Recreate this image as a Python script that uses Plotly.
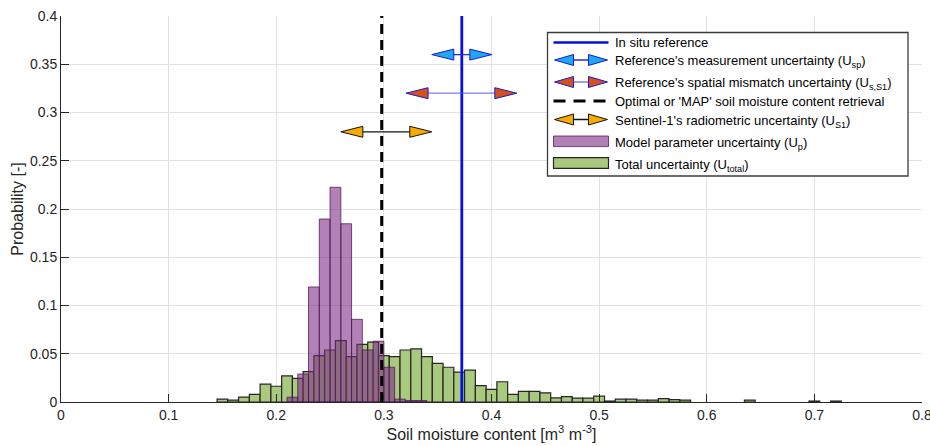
import plotly.graph_objects as go

# ---------------- data ----------------
green_centers = [0.15, 0.16, 0.17, 0.18, 0.19, 0.20, 0.21, 0.22, 0.23, 0.24,
                 0.25, 0.26, 0.27, 0.28, 0.29, 0.30, 0.31, 0.32, 0.33, 0.34,
                 0.35, 0.36, 0.37, 0.38, 0.39, 0.40, 0.41, 0.42, 0.43, 0.44,
                 0.45, 0.46, 0.47, 0.48, 0.49, 0.50, 0.51, 0.52, 0.53, 0.54,
                 0.55, 0.56, 0.57, 0.58, 0.64, 0.70, 0.72]
green_vals = [0.003, 0.002, 0.005, 0.008, 0.0185, 0.0163, 0.027, 0.0245, 0.0314, 0.048,
              0.0539, 0.0635, 0.047, 0.0598, 0.062, 0.048, 0.047, 0.0539, 0.055, 0.047,
              0.040, 0.036, 0.031, 0.033, 0.017, 0.013, 0.021, 0.008, 0.011, 0.011,
              0.0095, 0.0042, 0.0055, 0.004, 0.004, 0.006, 0.001, 0.003, 0.003, 0.002,
              0.002, 0.0035, 0.0025, 0.002, 0.002, 0.001, 0.001]

purple_centers = [0.215, 0.225, 0.235, 0.245, 0.255, 0.265, 0.275, 0.285,
                  0.295, 0.305, 0.315, 0.325, 0.335]
purple_vals = [0.005, 0.029, 0.1192, 0.1896, 0.2225, 0.1847, 0.0857, 0.054,
               0.063, 0.036, 0.003, 0.0015, 0.0015]

insitu_ref = 0.3724
map_retrieval = 0.298

arrow_y = [0.36, 0.32, 0.28]
arrow_lo = [0.3445, 0.3206, 0.2600]
arrow_hi = [0.4003, 0.4235, 0.3445]
arrow_fill = ["rgb(30,168,240)", "rgb(214,80,26)", "rgb(247,170,0)"]
arrow_edge = ["rgb(25,25,215)", "rgb(25,25,215)", "rgb(20,20,20)"]
arrow_line = ["rgb(40,40,220)", "rgba(80,80,230,0.75)", "rgb(20,20,20)"]

x_ticks = [0, 0.1, 0.2, 0.3, 0.4, 0.5, 0.6, 0.7, 0.8]
x_tick_labels = ["0", "0.1", "0.2", "0.3", "0.4", "0.5", "0.6", "0.7", "0.8"]
y_ticks = [0, 0.05, 0.1, 0.15, 0.2, 0.25, 0.3, 0.35, 0.4]
y_tick_labels = ["0", "0.05", "0.1", "0.15", "0.2", "0.25", "0.3", "0.35", "0.4"]

legend_labels = [
    "In situ reference",
    "Reference's measurement uncertainty (U<sub>sp</sub>)",
    "Reference's spatial mismatch uncertainty (U<sub>s,S1</sub>)",
    "Optimal or 'MAP' soil moisture content retrieval",
    "Sentinel-1's radiometric uncertainty (U<sub>S1</sub>)",
    "Model parameter uncertainty (U<sub>p</sub>)",
    "Total uncertainty (U<sub>total</sub>)",
]

# ---------------- styles / layout geometry ----------------
W, H = 930, 446
L, R, T, B = 61, 8, 16, 44
PW, PH = W - L - R, H - T - B
XR = [0, 0.8]
YR = [0, 0.4]
x_per_px = (XR[1] - XR[0]) / PW
y_per_px = (YR[1] - YR[0]) / PH

GREEN = "rgb(169,201,126)"
PURPLE = "rgba(123,40,130,0.58)"
PURPLE_EDGE = "rgba(75,20,85,0.75)"
BLUE = "rgb(5,15,225)"
FONT = "Liberation Sans, Arial, Helvetica, sans-serif"
AX = "#262626"

TRI_W_PX, TRI_HH_PX = 22, 5.5

fig = go.Figure()

fig.add_trace(go.Bar(x=green_centers, y=green_vals, width=0.01,
                     marker=dict(color=GREEN, line=dict(color=AX, width=1.2)),
                     name="Total uncertainty"))
fig.add_trace(go.Bar(x=purple_centers, y=purple_vals, width=0.01,
                     marker=dict(color=PURPLE, line=dict(color=PURPLE_EDGE, width=1)),
                     name="Model parameter uncertainty"))

fig.add_trace(go.Scatter(x=[insitu_ref, insitu_ref], y=YR, mode="lines",
                         line=dict(color=BLUE, width=2.8), name="In situ"))
fig.add_trace(go.Scatter(x=[map_retrieval, map_retrieval], y=YR, mode="lines",
                         line=dict(color="black", width=3, dash="10px,6px"), name="MAP"))

tw = TRI_W_PX * x_per_px
th = TRI_HH_PX * y_per_px
for yv, lo, hi, fc, ec, lc in zip(arrow_y, arrow_lo, arrow_hi, arrow_fill, arrow_edge, arrow_line):
    fig.add_trace(go.Scatter(x=[lo + tw * 0.5, hi - tw * 0.5], y=[yv, yv], mode="lines",
                             line=dict(color=lc, width=1.3)))
    fig.add_trace(go.Scatter(x=[lo, lo + tw, lo + tw, lo], y=[yv, yv + th, yv - th, yv],
                             mode="lines", fill="toself", fillcolor=fc,
                             line=dict(color=ec, width=1)))
    fig.add_trace(go.Scatter(x=[hi, hi - tw, hi - tw, hi], y=[yv, yv + th, yv - th, yv],
                             mode="lines", fill="toself", fillcolor=fc,
                             line=dict(color=ec, width=1)))


def PX(px):
    return (px - L) / PW


def PY(py):
    return (H - B - py) / PH


shapes = []
annotations = []
# legend box
shapes.append(dict(type="rect", xref="paper", yref="paper", x0=PX(547.5), x1=PX(908),
                   y0=PY(176), y1=PY(32.5), fillcolor="white",
                   line=dict(color="#3c3c3c", width=1.3), layer="above"))

g_x0, g_x1 = 553.5, 608.5
rows_y = [42.5, 60, 82, 101, 119.5, 141.3, 163]
text_dy = [0, 2, 2, 0, 2, 2, 2]

# row 1: blue line
shapes.append(dict(type="line", xref="paper", yref="paper", x0=PX(g_x0), x1=PX(g_x1),
                   y0=PY(rows_y[0]), y1=PY(rows_y[0]), line=dict(color=BLUE, width=2.4),
                   layer="above"))


def leg_arrow(yp, fc, ec, lc):
    lw = 19
    shapes.append(dict(type="line", xref="paper", yref="paper", x0=PX(g_x0 + 10), x1=PX(g_x1 - 10),
                       y0=PY(yp), y1=PY(yp), line=dict(color=lc, width=1.3), layer="above"))
    for tip, base in [(g_x0 + 1, g_x0 + 1 + lw), (g_x1 - 1, g_x1 - 1 - lw)]:
        path = "M {},{} L {},{} L {},{} Z".format(PX(tip), PY(yp), PX(base), PY(yp - 5.5),
                                                  PX(base), PY(yp + 5.5))
        shapes.append(dict(type="path", xref="paper", yref="paper", path=path,
                           fillcolor=fc, line=dict(color=ec, width=1), layer="above"))


leg_arrow(rows_y[1], arrow_fill[0], arrow_edge[0], arrow_line[0])
leg_arrow(rows_y[2], arrow_fill[1], arrow_edge[1], arrow_line[1])
shapes.append(dict(type="line", xref="paper", yref="paper", x0=PX(g_x0), x1=PX(g_x1),
                   y0=PY(rows_y[3]), y1=PY(rows_y[3]),
                   line=dict(color="black", width=3, dash="12px,8px"), layer="above"))
leg_arrow(rows_y[4], arrow_fill[2], arrow_edge[2], arrow_line[2])
shapes.append(dict(type="rect", xref="paper", yref="paper", x0=PX(g_x0), x1=PX(g_x1),
                   y0=PY(rows_y[5] + 5.3), y1=PY(rows_y[5] - 5.3), fillcolor=PURPLE,
                   line=dict(color=PURPLE_EDGE, width=1), layer="above"))
shapes.append(dict(type="rect", xref="paper", yref="paper", x0=PX(g_x0), x1=PX(g_x1),
                   y0=PY(rows_y[6] + 5.3), y1=PY(rows_y[6] - 5.3), fillcolor=GREEN,
                   line=dict(color=AX, width=1.2), layer="above"))

for lab, yp, dy in zip(legend_labels, rows_y, text_dy):
    annotations.append(dict(xref="paper", yref="paper", x=PX(613), y=PY(yp + dy),
                            xanchor="left", yanchor="middle", text=lab, showarrow=False,
                            font=dict(family=FONT, size=13, color="black")))

fig.update_layout(
    width=W, height=H,
    margin=dict(l=L, r=R, t=T, b=B, autoexpand=False),
    plot_bgcolor="white", paper_bgcolor="white",
    barmode="overlay", showlegend=False,
    font=dict(family=FONT, size=14, color=AX),
    shapes=shapes, annotations=annotations,
    xaxis=dict(range=XR, tickvals=x_ticks, ticktext=x_tick_labels, ticks="inside",
               ticklen=8, tickcolor=AX, showline=True, linecolor=AX, linewidth=1,
               showgrid=True, gridcolor="#e2e2e2", gridwidth=1, zeroline=False,
               ticklabeloverflow="allow", tickfont=dict(size=14), automargin=False,
               title=dict(text="Soil moisture content [m<sup>3</sup> m<sup>-3</sup>]",
                          font=dict(size=16), standoff=4)),
    yaxis=dict(range=YR, tickvals=y_ticks, ticktext=y_tick_labels, ticks="inside",
               ticklen=8, tickcolor=AX, showline=True, linecolor=AX, linewidth=1,
               showgrid=True, gridcolor="#e2e2e2", gridwidth=1, zeroline=False,
               tickfont=dict(size=14), automargin=False,
               title=dict(text="Probability [-]", font=dict(size=16), standoff=2)),
)

fig.write_html("out.html")
